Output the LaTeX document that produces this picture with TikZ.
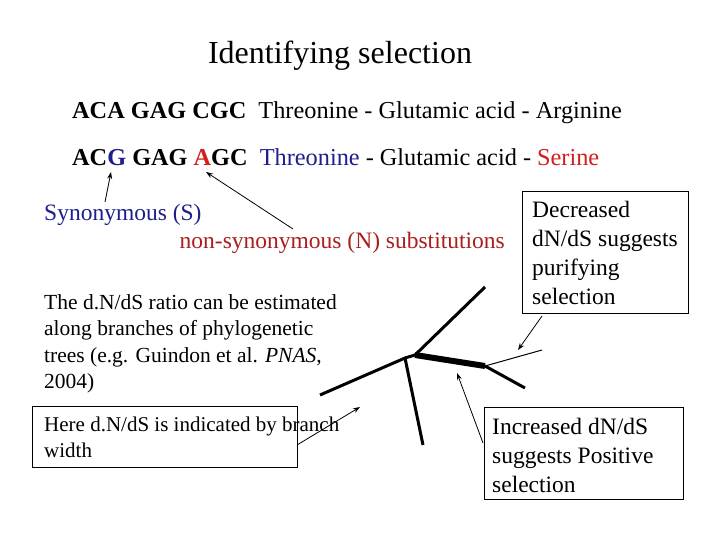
\documentclass[tikz,border=0pt]{standalone}
\usepackage{fontspec}
\setmainfont{Liberation Serif}
\usetikzlibrary{arrows.meta}
\definecolor{navy}{RGB}{30,30,140}
\definecolor{rd}{RGB}{210,30,30}
\definecolor{drd}{RGB}{170,30,30}
\begin{document}
\begin{tikzpicture}[x=1pt,y=-1pt,
  arr/.style={-{Stealth[length=7pt,width=5pt]},line width=0.8pt},
  br/.style={line width=#1,line cap=butt},
  tbox/.style={draw,line width=0.8pt,anchor=north west,inner sep=0pt},
  txt/.style={anchor=west,inner sep=0pt},
  blk/.style={anchor=west,inner sep=0pt,align=left}]
\useasboundingbox (0,0) rectangle (720,540);
\fill[white] (0,0) rectangle (720,540);
\node[inner sep=0pt,font=\fontsize{32}{36}\selectfont] (title) at (340,56) {Identifying selection};
\node[txt,font=\fontsize{24.3}{28}\selectfont] (l1) at (72,113) {\textbf{ACA GAG CGC}\ \ Threonine - Glutamic acid - Arginine};
\node[txt,font=\fontsize{24.3}{28}\selectfont] (l2) at (72,157) {\textbf{AC\textcolor{navy}{G} GAG \textcolor{rd}{A}GC}\ \ \textcolor{navy}{Threonine} - Glutamic acid - \textcolor{rd}{Serine}};
\node[txt,font=\fontsize{23.5}{28}\selectfont,text=navy] (syn) at (44,215) {Synonymous (S)};
\node[anchor=east,inner sep=0pt,font=\fontsize{23.5}{28}\selectfont,text=drd] (non) at (505,243) {non-synonymous (N) substitutions};
\node[blk,font=\fontsize{21.5}{26.5}\selectfont] (par) at (44,344) {The d.N/dS ratio can be estimated\\along branches of phylogenetic\\trees (e.g. Guindon et al. \textit{PNAS},\\2004)};
\node[tbox,minimum width=265pt,minimum height=61pt] (here) at (32,406) {};
\node[blk,font=\fontsize{21}{26}\selectfont] (heret) at (44,437) {Here d.N/dS is indicated by branch\\width};
\node[tbox,minimum width=166pt,minimum height=122pt] (dec) at (522,191) {};
\node[blk,font=\fontsize{23.5}{29}\selectfont] (dect) at (532,253) {Decreased\\dN/dS suggests\\purifying\\selection};
\node[tbox,minimum width=199pt,minimum height=92pt] (inc) at (484,407) {};
\node[blk,font=\fontsize{23.5}{29}\selectfont] (inct) at (492,455) {Increased dN/dS\\suggests Positive\\selection};
% tree
\coordinate (a) at (320,395); \coordinate (b) at (405,358); \coordinate (c) at (415,355);
\coordinate (d) at (485,287); \coordinate (e) at (423,445); \coordinate (f) at (485,366);
\coordinate (g) at (542,350); \coordinate (h) at (525,388);
\draw[br=3pt] (a) -- (b) -- (c);
\draw[br=3pt] (c) -- (d);
\draw[br=3pt] (b) -- (e);
\draw[br=6pt] (c) -- (f);
\draw[br=1pt] (f) -- (g);
\draw[br=3pt] (f) -- (h);
% arrows
\coordinate (s1) at (105,202); \coordinate (s2) at (111,172);
\coordinate (n1) at (293,229); \coordinate (n2) at (206,172);
\draw[arr] (s1) -- (s2);
\draw[arr] (n1) -- (n2);
\coordinate (d1) at (542,316); \coordinate (d2) at (518,350);
\draw[arr] (d1) -- (d2);
\coordinate (i1) at (483,443); \coordinate (i2) at (457,373);
\draw[arr] (i1) -- (i2);
\coordinate (h1) at (297,445); \coordinate (h2) at (360,407);
\draw[arr] (h1) -- (h2);
\end{tikzpicture}
\end{document}
